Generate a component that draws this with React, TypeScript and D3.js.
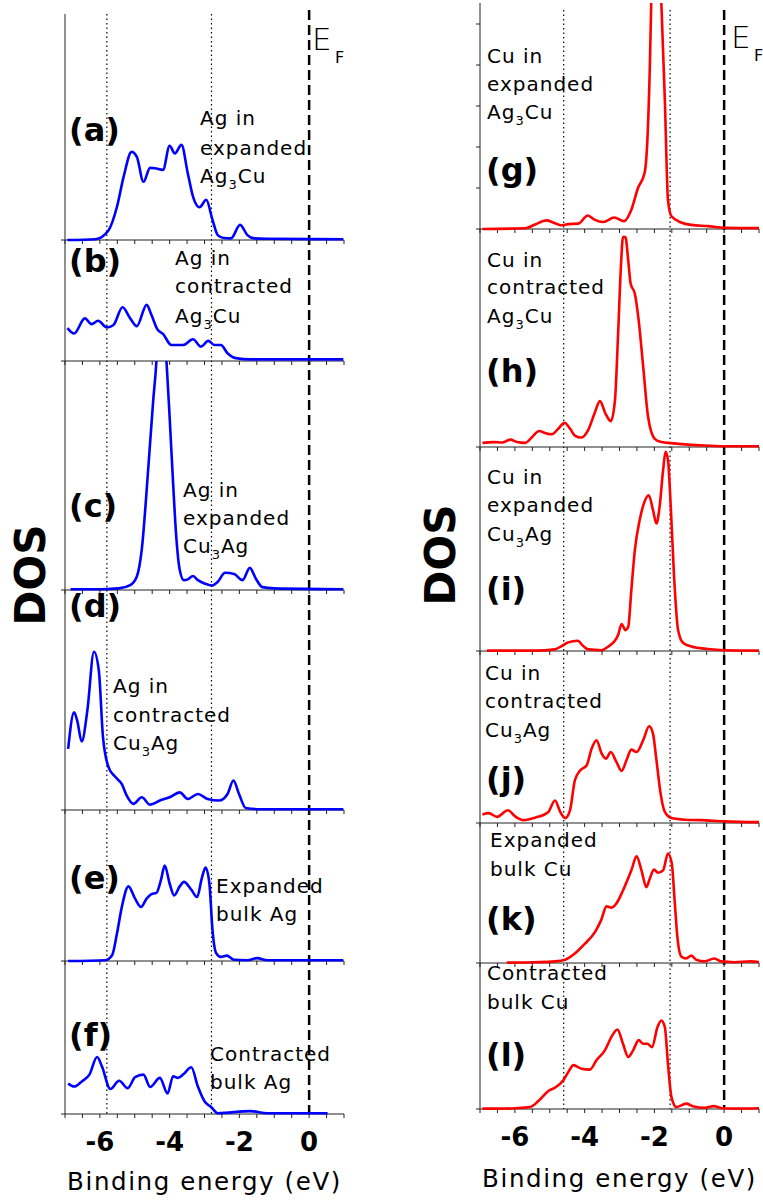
import React from "react";
import * as d3 from "d3";

type Pt = [number, number];

// Binding energy (eV) vs DOS (states/eV, arbitrary units)
const agInExpandedAg3Cu: Pt[] = [
  [-6.93, 0], [-6.13, 0.02], [-5.75, 0.24], [-5.51, 0.81], [-5.32, 1.54], [-5.09, 2.15], [-4.94, 2.03],
  [-4.75, 1.42], [-4.56, 1.76], [-4.42, 1.75], [-4.19, 1.71], [-4.0, 2.3], [-3.85, 2.11], [-3.66, 2.32],
  [-3.48, 1.63], [-3.33, 1.06], [-3.14, 0.8], [-2.95, 0.98], [-2.77, 0.49], [-2.62, 0.12], [-2.45, 0.05],
  [-2.24, 0.04], [-1.98, 0.37], [-1.77, 0.12], [-1.58, 0.04], [-1.2, 0.03], [0.98, 0.02],
];
const agInContractedAg3Cu: Pt[] = [
  [-6.93, 0.8], [-6.74, 0.67], [-6.43, 1.04], [-6.24, 0.9], [-6.05, 0.98], [-5.8, 0.82], [-5.61, 0.88],
  [-5.35, 1.31], [-5.13, 1.04], [-4.94, 0.85], [-4.66, 1.37], [-4.52, 1.12], [-4.35, 0.77], [-4.19, 0.66],
  [-3.95, 0.39], [-3.62, 0.39], [-3.33, 0.53], [-3.1, 0.35], [-2.89, 0.49], [-2.72, 0.39], [-2.53, 0.39],
  [-2.34, 0.19], [-2.1, 0.07], [-1.68, 0.04], [0.98, 0.04],
];
const agInExpandedCu3Ag: Pt[] = [
  [-6.84, 0.02], [-5.94, 0.02], [-5.46, 0.04], [-5.13, 0.12], [-4.94, 0.33], [-4.8, 0.98], [-4.61, 3.0],
  [-4.47, 4.63], [-4.38, 5.58], [-4.33, 6.5], [-4.25, 7.2], [-4.17, 6.5], [-4.09, 5.58], [-4.0, 4.22],
  [-3.9, 2.6], [-3.81, 1.3], [-3.71, 0.49], [-3.59, 0.24], [-3.48, 0.26], [-3.33, 0.34], [-3.19, 0.24],
  [-3.0, 0.16], [-2.79, 0.11], [-2.62, 0.2], [-2.41, 0.42], [-2.15, 0.39], [-1.91, 0.24], [-1.7, 0.54],
  [-1.53, 0.28], [-1.34, 0.07], [-1.01, 0.04], [0.98, 0.02],
];
const agInContractedCu3Ag: Pt[] = [
  [-6.91, 1.49], [-6.74, 2.38], [-6.65, 2.18], [-6.52, 1.67], [-6.36, 2.42], [-6.17, 3.86], [-6.03, 3.4],
  [-5.91, 1.77], [-5.75, 1.04], [-5.56, 0.81], [-5.37, 0.63], [-5.23, 0.35], [-5.04, 0.15], [-4.8, 0.31],
  [-4.56, 0.13], [-4.28, 0.23], [-4.0, 0.31], [-3.71, 0.43], [-3.48, 0.27], [-3.19, 0.39], [-2.91, 0.27],
  [-2.58, 0.23], [-2.34, 0.39], [-2.17, 0.72], [-2.01, 0.39], [-1.82, 0.05], [-1.39, 0.02], [0.98, 0.02],
];
const expandedBulkAg: Pt[] = [
  [-6.91, 0], [-5.84, 0.02], [-5.65, 0.14], [-5.51, 0.67], [-5.37, 1.32], [-5.18, 1.82], [-4.99, 1.52],
  [-4.82, 1.32], [-4.66, 1.52], [-4.52, 1.63], [-4.38, 1.66], [-4.25, 1.97], [-4.14, 2.33], [-4.0, 1.89],
  [-3.87, 1.6], [-3.71, 1.82], [-3.59, 1.93], [-3.38, 1.74], [-3.21, 1.56], [-3.08, 2.01], [-2.97, 2.28],
  [-2.86, 1.89], [-2.77, 0.75], [-2.67, 0.2], [-2.53, 0.1], [-2.36, 0.13], [-2.15, 0.03], [-1.77, 0.02],
  [-1.49, 0.07], [-1.2, 0.02], [0.98, 0.02],
];
const contractedBulkAg: Pt[] = [
  [-6.91, 0.74], [-6.74, 0.67], [-6.51, 0.8], [-6.3, 0.96], [-6.08, 1.39], [-5.94, 1.16], [-5.7, 0.61],
  [-5.45, 0.81], [-5.2, 0.63], [-4.99, 0.9], [-4.75, 0.96], [-4.56, 0.66], [-4.28, 0.88], [-4.06, 0.5],
  [-3.9, 0.92], [-3.76, 0.88], [-3.59, 0.98], [-3.38, 1.14], [-3.19, 0.67], [-3.0, 0.31], [-2.81, 0.17],
  [-2.62, 0.02], [-1.68, 0.07], [-1.2, 0.02], [0.53, 0.02],
];
const cuInExpandedAg3Cu: Pt[] = [
  [-6.93, 0], [-5.7, 0.02], [-5.42, 0.11], [-5.09, 0.21], [-4.9, 0.16], [-4.68, 0.09], [-4.47, 0.12],
  [-4.18, 0.13], [-3.91, 0.33], [-3.72, 0.23], [-3.47, 0.17], [-3.15, 0.28], [-2.87, 0.19], [-2.66, 0.47],
  [-2.47, 1.0], [-2.28, 1.37], [-2.2, 2.18], [-2.13, 3.97], [-2.09, 5.51], [-2.04, 6.8], [-1.94, 8.5],
  [-1.85, 6.8], [-1.8, 5.51], [-1.7, 3.15], [-1.61, 0.71], [-1.51, 0.31], [-1.23, 0.16], [-0.94, 0.1],
  [-0.47, 0.07], [0.01, 0.03], [1.04, 0.02],
];
const cuInContractedAg3Cu: Pt[] = [
  [-6.93, 0.1], [-6.61, 0.12], [-6.37, 0.11], [-6.13, 0.18], [-5.94, 0.12], [-5.7, 0.1], [-5.51, 0.24],
  [-5.3, 0.39], [-5.13, 0.34], [-4.94, 0.31], [-4.75, 0.45], [-4.58, 0.59], [-4.42, 0.45], [-4.28, 0.28],
  [-4.09, 0.23], [-3.9, 0.41], [-3.72, 0.81], [-3.56, 1.12], [-3.4, 0.81], [-3.25, 0.63], [-3.13, 1.14],
  [-3.04, 2.76], [-2.96, 4.39], [-2.9, 5.12], [-2.83, 5.12], [-2.75, 4.55], [-2.68, 3.98], [-2.56, 3.74],
  [-2.45, 3.09], [-2.32, 1.95], [-2.18, 0.73], [-1.99, 0.2], [-1.8, 0.12], [-1.61, 0.1], [-1.23, 0.07],
  [-0.66, 0.04], [0.01, 0.02], [1.04, 0.02],
];
const cuInExpandedCu3Ag: Pt[] = [
  [-6.8, 0.01], [-5.42, 0.01], [-4.85, 0.04], [-4.66, 0.12], [-4.47, 0.21], [-4.2, 0.25], [-4.04, 0.12],
  [-3.9, 0.04], [-3.51, 0.02], [-3.32, 0.11], [-3.15, 0.23], [-3.04, 0.39], [-2.94, 0.66], [-2.83, 0.51],
  [-2.75, 0.59], [-2.66, 1.49], [-2.56, 2.46], [-2.42, 3.2], [-2.3, 3.6], [-2.16, 3.8], [-2.04, 3.44],
  [-1.94, 3.11], [-1.85, 3.52], [-1.75, 4.41], [-1.68, 4.86], [-1.61, 4.66], [-1.53, 3.52], [-1.44, 1.89],
  [-1.32, 0.51], [-1.18, 0.2], [-0.94, 0.11], [-0.47, 0.05], [0.01, 0.02], [1.04, 0.01],
];
const cuInContractedCu3Ag: Pt[] = [
  [-6.93, 0.21], [-6.75, 0.24], [-6.51, 0.15], [-6.2, 0.31], [-5.99, 0.16], [-5.75, 0.07], [-5.42, 0.13],
  [-5.04, 0.27], [-4.85, 0.55], [-4.7, 0.27], [-4.56, 0.12], [-4.42, 0.31], [-4.28, 1.04], [-4.13, 1.28],
  [-3.94, 1.41], [-3.8, 1.81], [-3.66, 2.02], [-3.51, 1.69], [-3.39, 1.57], [-3.25, 1.73], [-3.09, 1.49],
  [-2.94, 1.27], [-2.8, 1.53], [-2.66, 1.79], [-2.51, 1.73], [-2.32, 2.02], [-2.15, 2.36], [-2.04, 2.18],
  [-1.94, 1.53], [-1.82, 0.71], [-1.7, 0.27], [-1.51, 0.12], [-1.13, 0.08], [-0.66, 0.07], [0.01, 0.04],
  [1.04, 0.02],
];
const expandedBulkCu: Pt[] = [
  [-6.23, 0.01], [-5.42, 0.02], [-4.85, 0.04], [-4.56, 0.08], [-4.23, 0.27], [-3.99, 0.47], [-3.7, 0.76],
  [-3.53, 1.04], [-3.37, 1.38], [-3.23, 1.35], [-3.09, 1.45], [-2.9, 1.77], [-2.66, 2.26], [-2.51, 2.6],
  [-2.37, 2.26], [-2.23, 1.85], [-2.13, 2.06], [-2.01, 2.28], [-1.9, 2.2], [-1.75, 2.26], [-1.61, 2.67],
  [-1.5, 2.42], [-1.42, 1.53], [-1.34, 0.63], [-1.23, 0.16], [-1.09, 0.11], [-0.94, 0.18], [-0.8, 0.08],
  [-0.56, 0.04], [-0.28, 0.11], [-0.09, 0.04], [0.3, 0.02], [0.77, 0.04], [1.04, 0.02],
];
const contractedBulkCu: Pt[] = [
  [-6.93, 0.01], [-6.37, 0.01], [-5.99, 0.02], [-5.56, 0.05], [-5.32, 0.2], [-5.04, 0.44], [-4.85, 0.52],
  [-4.61, 0.7], [-4.47, 0.9], [-4.32, 1.07], [-4.09, 0.98], [-3.85, 0.96], [-3.66, 1.19], [-3.42, 1.43],
  [-3.23, 1.76], [-3.06, 1.94], [-2.9, 1.59], [-2.75, 1.27], [-2.61, 1.43], [-2.45, 1.68], [-2.32, 1.59],
  [-2.2, 1.59], [-2.07, 1.51], [-1.91, 2.0], [-1.8, 2.16], [-1.7, 2.0], [-1.61, 1.1], [-1.51, 0.29],
  [-1.37, 0.05], [-1.09, 0.13], [-0.9, 0.07], [-0.56, 0.03], [-0.3, 0.07], [-0.04, 0.02], [0.3, 0.01],
  [1.04, 0.02],
];

const xDomain: [number, number] = [-7, 1];
const xMinorTicks = d3.range(-7, 1.001, 0.5);
const xTickLabels = [-6, -4, -2, 0];
const leftGuides = [-5.8, -2.8];
const rightGuides = [-4.6, -1.55];
const fermiLevel = 0;
const gYTicks = [1, 2, 3, 4, 5];

const PX_PER_UNIT = 41;
const FONT = "'DejaVu Sans', Verdana, sans-serif";

type Panel = {
  data: Pt[];
  top: number;
  bottom: number;
  label: string;
  labelPos: [number, number];
  lines: string[];
  textX: number;
  textY: number[];
  yTicks?: number[];
};

const leftPanels: Panel[] = [
  { data: agInExpandedAg3Cu, top: 14, bottom: 240, label: "(a)", labelPos: [69, 141], lines: ["Ag in", "expanded", "Ag_3Cu"], textX: 200, textY: [125, 155, 183] },
  { data: agInContractedAg3Cu, top: 240, bottom: 361, label: "(b)", labelPos: [69, 272], lines: ["Ag in", "contracted", "Ag_3Cu"], textX: 175, textY: [265, 293, 323] },
  { data: agInExpandedCu3Ag, top: 361, bottom: 590, label: "(c)", labelPos: [69, 517], lines: ["Ag in", "expanded", "Cu_3Ag"], textX: 183, textY: [497, 525, 553] },
  { data: agInContractedCu3Ag, top: 590, bottom: 810, label: "(d)", labelPos: [69, 617], lines: ["Ag in", "contracted", "Cu_3Ag"], textX: 113, textY: [693, 722, 750] },
  { data: expandedBulkAg, top: 810, bottom: 961, label: "(e)", labelPos: [69, 889], lines: ["Expanded", "bulk Ag"], textX: 216, textY: [893, 921] },
  { data: contractedBulkAg, top: 961, bottom: 1114, label: "(f)", labelPos: [69, 1046], lines: ["Contracted", "bulk Ag"], textX: 210, textY: [1061, 1089] },
];
const rightPanels: Panel[] = [
  { data: cuInExpandedAg3Cu, top: 3, bottom: 229, label: "(g)", labelPos: [486, 181], lines: ["Cu in", "expanded", "Ag_3Cu"], textX: 487, textY: [63, 91, 119], yTicks: gYTicks },
  { data: cuInContractedAg3Cu, top: 229, bottom: 447, label: "(h)", labelPos: [486, 382], lines: ["Cu in", "contracted", "Ag_3Cu"], textX: 487, textY: [267, 294, 323] },
  { data: cuInExpandedCu3Ag, top: 447, bottom: 651, label: "(i)", labelPos: [486, 600], lines: ["Cu in", "expanded", "Cu_3Ag"], textX: 487, textY: [484, 512, 541] },
  { data: cuInContractedCu3Ag, top: 651, bottom: 823, label: "(j)", labelPos: [486, 790], lines: ["Cu in", "contracted", "Cu_3Ag"], textX: 485, textY: [680, 708, 737] },
  { data: expandedBulkCu, top: 823, bottom: 963, label: "(k)", labelPos: [486, 930], lines: ["Expanded", "bulk Cu"], textX: 490, textY: [847, 876] },
  { data: contractedBulkCu, top: 963, bottom: 1109, label: "(l)", labelPos: [486, 1066], lines: ["Contracted", "bulk Cu"], textX: 487, textY: [980, 1009] },
];

function RichLine({ text, x, y }: { text: string; x: number; y: number }) {
  const m = text.match(/^(.*)_(\d)(.*)$/);
  if (!m) {
    return (
      <text x={x} y={y} fontFamily={FONT} fontSize={20} letterSpacing={1} fill="#000">
        {text}
      </text>
    );
  }
  return (
    <text x={x} y={y} fontFamily={FONT} fontSize={20} letterSpacing={1} fill="#000">
      <tspan>{m[1]}</tspan>
      <tspan dy={6} fontSize={13}>{m[2]}</tspan>
      <tspan dy={-6}>{m[3]}</tspan>
    </text>
  );
}

function Column({
  id,
  panels,
  x0,
  x1,
  color,
  guides,
  guideTop,
  dashTop,
  axisTop,
  labelBaseline,
  titleBaseline,
  dosX,
  dosY,
  efX,
  efY,
}: {
  id: string;
  panels: Panel[];
  x0: number;
  x1: number;
  color: string;
  guides: number[];
  guideTop: number;
  dashTop: number;
  axisTop: number;
  labelBaseline: number;
  titleBaseline: number;
  dosX: number;
  dosY: number;
  efX: number;
  efY: number;
}) {
  const x = d3.scaleLinear().domain(xDomain).range([x0, x1]);
  const bottom = panels[panels.length - 1].bottom;
  return (
    <g>
      <defs>
        {panels.map((p, i) => (
          <clipPath id={`${id}-clip-${i}`} key={i}>
            <rect x={x0} y={p.top} width={x1 - x0} height={p.bottom - p.top + 3} />
          </clipPath>
        ))}
      </defs>
      {guides.map((g) => (
        <line key={g} x1={x(g)} x2={x(g)} y1={guideTop} y2={bottom} stroke="#000" strokeWidth={1.2} strokeDasharray="1.5,3" />
      ))}
      <line x1={x(fermiLevel)} x2={x(fermiLevel)} y1={dashTop} y2={bottom} stroke="#000" strokeWidth={2.5} strokeDasharray="10,5" />
      <line x1={x0} x2={x0} y1={axisTop} y2={bottom} stroke="#222" strokeWidth={1} />
      {panels.map((p, i) => {
        const y = d3.scaleLinear().domain([0, (p.bottom - p.top) / PX_PER_UNIT]).range([p.bottom, p.top]);
        const line = d3
          .line<Pt>()
          .x((d) => x(d[0]))
          .y((d) => y(d[1]))
          .curve(d3.curveMonotoneX);
        return (
          <g key={i}>
            <line x1={x0 - 4} x2={x1} y1={p.bottom} y2={p.bottom} stroke="#222" strokeWidth={1} />
            {xMinorTicks.map((t) => (
              <line key={t} x1={x(t)} x2={x(t)} y1={p.bottom} y2={p.bottom + 4} stroke="#222" strokeWidth={1} />
            ))}
            {(p.yTicks || []).map((t) => (
              <line key={t} x1={x0 - 4} x2={x0} y1={y(t)} y2={y(t)} stroke="#222" strokeWidth={1} />
            ))}
            <path d={line(p.data) || ""} fill="none" stroke={color} strokeWidth={2.6} clipPath={`url(#${id}-clip-${i})`} />
            <text x={p.labelPos[0]} y={p.labelPos[1]} fontFamily={FONT} fontWeight="bold" fontSize={32} fill="#000">
              {p.label}
            </text>
            {p.lines.map((l, k) => (
              <RichLine key={k} text={l} x={p.textX} y={p.textY[k]} />
            ))}
          </g>
        );
      })}
      {xTickLabels.map((t) => (
        <text key={t} x={x(t)} y={labelBaseline} textAnchor="middle" fontFamily={FONT} fontWeight="bold" fontSize={26} fill="#000">
          {t}
        </text>
      ))}
      <text x={(x0 + x1) / 2} y={titleBaseline} textAnchor="middle" fontFamily={FONT} fontSize={24.5} letterSpacing={1.6} fill="#000">
        Binding energy (eV)
      </text>
      <text
        transform={`translate(${dosX},${dosY}) rotate(-90)`}
        textAnchor="middle"
        fontFamily={FONT}
        fontWeight="bold"
        fontSize={42}
        fill="#000"
      >
        DOS
      </text>
      <text x={efX} y={efY} fontFamily={FONT} fontSize={31} fontWeight={300} fill="#000">
        E
      </text>
      <text x={efX + 23} y={efY + 13} fontFamily={FONT} fontSize={16} fill="#000">
        F
      </text>
    </g>
  );
}

export default function App() {
  return (
    <svg
      width={763}
      height={1200}
      viewBox="0 0 763 1200"
      style={{ position: "absolute", left: 0, top: 0, display: "block", background: "#fff" }}
    >
      <rect x={0} y={0} width={763} height={1200} fill="#fff" />
      <Column
        id="L"
        panels={leftPanels}
        x0={65}
        x1={344}
        color="#0000ff"
        guides={leftGuides}
        guideTop={14}
        dashTop={10}
        axisTop={14}
        labelBaseline={1151}
        titleBaseline={1190}
        dosX={45}
        dosY={575}
        efX={312}
        efY={50}
      />
      <Column
        id="R"
        panels={rightPanels}
        x0={480}
        x1={759}
        color="#ff0000"
        guides={rightGuides}
        guideTop={10}
        dashTop={10}
        axisTop={3}
        labelBaseline={1146}
        titleBaseline={1187}
        dosX={455}
        dosY={555}
        efX={731}
        efY={48}
      />
    </svg>
  );
}
